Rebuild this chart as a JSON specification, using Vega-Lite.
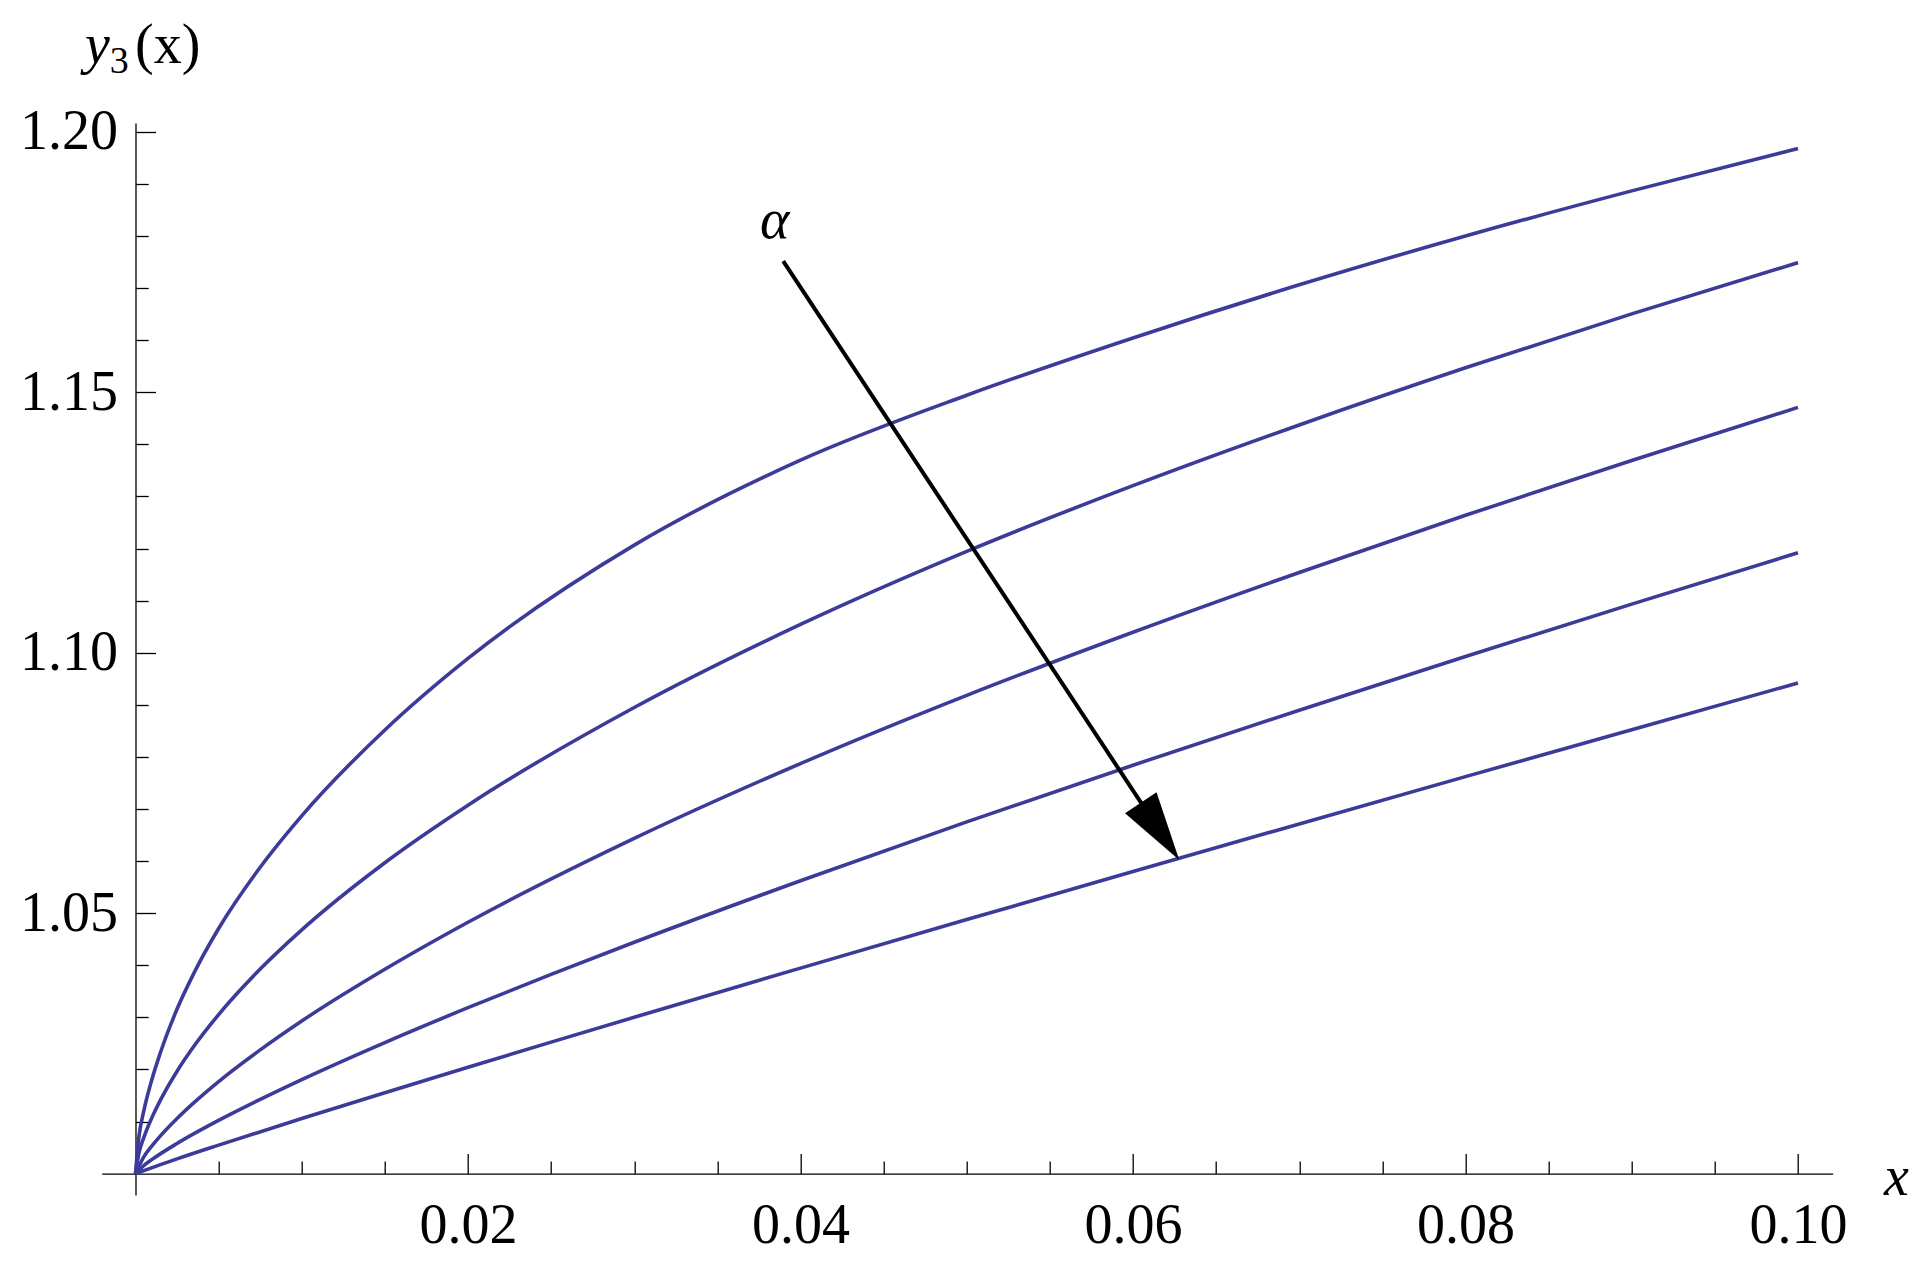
{
  "$schema": "https://vega.github.io/schema/vega-lite/v6.json",
  "width": 1731,
  "height": 1072,
  "autosize": "none",
  "padding": {"left": 101.7, "top": 123, "right": 98.3, "bottom": 76},
  "background": "white",
  "config": {"view": {"stroke": null}},
  "resolve": {"axis": {"x": "independent", "y": "independent"}},
  "datasets": {
    "curves": [
      {"curve": "a1", "x": 0, "y": 1}, {"curve": "a1", "x": 0.0002, "y": 1.00694}, {"curve": "a1", "x": 0.0005, "y": 1.01203}, {"curve": "a1", "x": 0.001, "y": 1.01823}, {"curve": "a1", "x": 0.0015, "y": 1.02325}, {"curve": "a1", "x": 0.0025, "y": 1.03159}, {"curve": "a1", "x": 0.0035, "y": 1.0384}, {"curve": "a1", "x": 0.005, "y": 1.04705}, {"curve": "a1", "x": 0.0075, "y": 1.05881}, {"curve": "a1", "x": 0.01, "y": 1.06869}, {"curve": "a1", "x": 0.015, "y": 1.08516}, {"curve": "a1", "x": 0.02, "y": 1.0989}, {"curve": "a1", "x": 0.03, "y": 1.12066}, {"curve": "a1", "x": 0.04, "y": 1.13696}, {"curve": "a1", "x": 0.05, "y": 1.14943}, {"curve": "a1", "x": 0.06, "y": 1.16043}, {"curve": "a1", "x": 0.07, "y": 1.17063}, {"curve": "a1", "x": 0.08, "y": 1.18}, {"curve": "a1", "x": 0.09, "y": 1.18867}, {"curve": "a1", "x": 0.1, "y": 1.1968},
      {"curve": "a2", "x": 0, "y": 1}, {"curve": "a2", "x": 0.0002, "y": 1.00381}, {"curve": "a2", "x": 0.0005, "y": 1.00691}, {"curve": "a2", "x": 0.001, "y": 1.01084}, {"curve": "a2", "x": 0.0015, "y": 1.01411}, {"curve": "a2", "x": 0.0025, "y": 1.01966}, {"curve": "a2", "x": 0.0035, "y": 1.02439}, {"curve": "a2", "x": 0.005, "y": 1.03053}, {"curve": "a2", "x": 0.0075, "y": 1.03926}, {"curve": "a2", "x": 0.01, "y": 1.0468}, {"curve": "a2", "x": 0.015, "y": 1.05969}, {"curve": "a2", "x": 0.02, "y": 1.07073}, {"curve": "a2", "x": 0.03, "y": 1.08948}, {"curve": "a2", "x": 0.04, "y": 1.10543}, {"curve": "a2", "x": 0.05, "y": 1.11946}, {"curve": "a2", "x": 0.06, "y": 1.13207}, {"curve": "a2", "x": 0.07, "y": 1.14373}, {"curve": "a2", "x": 0.08, "y": 1.1547}, {"curve": "a2", "x": 0.09, "y": 1.16505}, {"curve": "a2", "x": 0.1, "y": 1.1749},
      {"curve": "a3", "x": 0, "y": 1}, {"curve": "a3", "x": 0.0005, "y": 1.00322}, {"curve": "a3", "x": 0.001, "y": 1.00537}, {"curve": "a3", "x": 0.0015, "y": 1.00725}, {"curve": "a3", "x": 0.0025, "y": 1.01058}, {"curve": "a3", "x": 0.0035, "y": 1.01357}, {"curve": "a3", "x": 0.005, "y": 1.01767}, {"curve": "a3", "x": 0.0075, "y": 1.02375}, {"curve": "a3", "x": 0.01, "y": 1.0293}, {"curve": "a3", "x": 0.015, "y": 1.03923}, {"curve": "a3", "x": 0.02, "y": 1.04826}, {"curve": "a3", "x": 0.03, "y": 1.06436}, {"curve": "a3", "x": 0.04, "y": 1.07872}, {"curve": "a3", "x": 0.05, "y": 1.09182}, {"curve": "a3", "x": 0.06, "y": 1.10394}, {"curve": "a3", "x": 0.07, "y": 1.11541}, {"curve": "a3", "x": 0.08, "y": 1.12639}, {"curve": "a3", "x": 0.09, "y": 1.13692}, {"curve": "a3", "x": 0.1, "y": 1.1471},
      {"curve": "a4", "x": 0, "y": 1}, {"curve": "a4", "x": 0.0005, "y": 1.00155}, {"curve": "a4", "x": 0.001, "y": 1.00273}, {"curve": "a4", "x": 0.0025, "y": 1.00579}, {"curve": "a4", "x": 0.005, "y": 1.01022}, {"curve": "a4", "x": 0.0075, "y": 1.01424}, {"curve": "a4", "x": 0.01, "y": 1.01805}, {"curve": "a4", "x": 0.015, "y": 1.02516}, {"curve": "a4", "x": 0.02, "y": 1.03185}, {"curve": "a4", "x": 0.025, "y": 1.03825}, {"curve": "a4", "x": 0.03, "y": 1.04441}, {"curve": "a4", "x": 0.04, "y": 1.05623}, {"curve": "a4", "x": 0.05, "y": 1.06753}, {"curve": "a4", "x": 0.06, "y": 1.07841}, {"curve": "a4", "x": 0.07, "y": 1.08897}, {"curve": "a4", "x": 0.08, "y": 1.09928}, {"curve": "a4", "x": 0.09, "y": 1.10933}, {"curve": "a4", "x": 0.1, "y": 1.1192},
      {"curve": "a5", "x": 0, "y": 1}, {"curve": "a5", "x": 0.0025, "y": 1.00283}, {"curve": "a5", "x": 0.005, "y": 1.00547}, {"curve": "a5", "x": 0.01, "y": 1.01057}, {"curve": "a5", "x": 0.015, "y": 1.01553}, {"curve": "a5", "x": 0.02, "y": 1.02042}, {"curve": "a5", "x": 0.025, "y": 1.02524}, {"curve": "a5", "x": 0.03, "y": 1.03001}, {"curve": "a5", "x": 0.04, "y": 1.03945}, {"curve": "a5", "x": 0.05, "y": 1.04877}, {"curve": "a5", "x": 0.06, "y": 1.05798}, {"curve": "a5", "x": 0.07, "y": 1.06713}, {"curve": "a5", "x": 0.08, "y": 1.07621}, {"curve": "a5", "x": 0.09, "y": 1.08522}, {"curve": "a5", "x": 0.1, "y": 1.0942}
    ]
  },
  "layer": [
    {
      "data": {"name": "curves"},
      "mark": {"type": "line", "color": "#3d3b99", "strokeWidth": 3.6, "interpolate": "monotone"},
      "encoding": {
        "x": {"field": "x", "type": "quantitative",
          "scale": {"domain": [-0.002033, 0.102087], "nice": false, "zero": false},
          "axis": {"orient": "bottom", "offset": -21.4, "title": null, "grid": false,
            "values": [0.02, 0.04, 0.06, 0.08, 0.1], "format": ".2f",
            "domainColor": "black", "domainWidth": 1.3,
            "tickColor": "black", "tickWidth": 1.3, "tickSize": -20,
            "labelFont": "Liberation Serif", "labelFontSize": 56, "labelColor": "black",
            "labelBaseline": "top", "labelPadding": 45, "labelFlush": false, "labelOverlap": false}},
        "y": {"field": "y", "type": "quantitative",
          "scale": {"domain": [0.99589, 1.2017], "nice": false, "zero": false},
          "axis": {"orient": "left", "offset": -33.8, "title": null, "grid": false,
            "values": [1.05, 1.1, 1.15, 1.2], "format": ".2f",
            "domainColor": "black", "domainWidth": 1.3,
            "tickColor": "black", "tickWidth": 1.3, "tickSize": -20,
            "labelFont": "Liberation Serif", "labelFontSize": 56, "labelColor": "black",
            "labelBaseline": "middle", "labelPadding": 38, "labelFlush": false, "labelOverlap": false}},
        "detail": {"field": "curve"}
      }
    },
    {
      "data": {"values": [{"x": 0.03896, "y": 1.17518, "x2": 0.061624, "y2": 1.065694}]},
      "mark": {"type": "rule", "color": "black", "strokeWidth": 4},
      "encoding": {
        "x": {"field": "x", "type": "quantitative",
          "axis": {"orient": "bottom", "offset": -21.4, "title": null, "grid": false, "domain": false, "labels": false,
            "values": [0.005, 0.01, 0.015, 0.025, 0.03, 0.035, 0.045, 0.05, 0.055, 0.065, 0.07, 0.075, 0.085, 0.09, 0.095],
            "tickColor": "black", "tickWidth": 1.3, "tickSize": -12.7}},
        "y": {"field": "y", "type": "quantitative",
          "axis": {"orient": "left", "offset": -33.8, "title": null, "grid": false, "domain": false, "labels": false,
            "values": [1.01, 1.02, 1.03, 1.04, 1.06, 1.07, 1.08, 1.09, 1.11, 1.12, 1.13, 1.14, 1.16, 1.17, 1.18, 1.19],
            "tickColor": "black", "tickWidth": 1.3, "tickSize": -12.7}},
        "x2": {"field": "x2"},
        "y2": {"field": "y2"}
      }
    },
    {
      "data": {"values": [{"x": 0.061624, "y": 1.065694}]},
      "mark": {"type": "point", "shape": "M0,-1L0.55,1L-0.55,1Z", "size": 4761, "angle": 146.1, "filled": true, "color": "black", "opacity": 1, "strokeWidth": 0},
      "encoding": {
        "x": {"field": "x", "type": "quantitative", "axis": null},
        "y": {"field": "y", "type": "quantitative", "axis": null}
      }
    },
    {
      "data": {"values": [
        {"t": "y", "x": -0.00304, "y": 1.21321},
        {"t": "x", "x": 0.10517, "y": 0.99589},
        {"t": "α", "x": 0.03756, "y": 1.17961}
      ]},
      "mark": {"type": "text", "font": "Liberation Serif", "fontStyle": "italic", "fontSize": 56, "align": "left", "baseline": "alphabetic", "color": "black"},
      "encoding": {
        "x": {"field": "x", "type": "quantitative", "axis": null},
        "y": {"field": "y", "type": "quantitative", "axis": null},
        "text": {"field": "t"}
      }
    },
    {
      "data": {"values": [{"t": "(x)", "x": -0.00003, "y": 1.21321}]},
      "mark": {"type": "text", "font": "Liberation Serif", "fontSize": 56, "align": "left", "baseline": "alphabetic", "color": "black"},
      "encoding": {
        "x": {"field": "x", "type": "quantitative", "axis": null},
        "y": {"field": "y", "type": "quantitative", "axis": null},
        "text": {"field": "t"}
      }
    },
    {
      "data": {"values": [{"t": "3", "x": -0.00155, "y": 1.21133}]},
      "mark": {"type": "text", "font": "Liberation Serif", "fontSize": 38, "align": "left", "baseline": "alphabetic", "color": "black"},
      "encoding": {
        "x": {"field": "x", "type": "quantitative", "axis": null},
        "y": {"field": "y", "type": "quantitative", "axis": null},
        "text": {"field": "t"}
      }
    }
  ]
}
